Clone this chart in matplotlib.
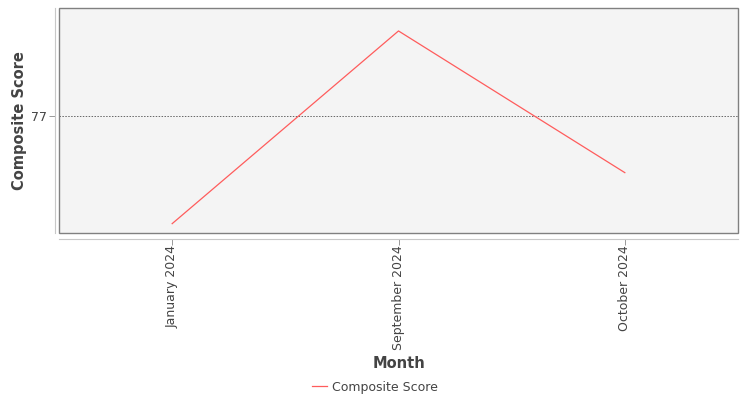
import matplotlib
matplotlib.use("Agg")
import matplotlib.pyplot as plt
from matplotlib.patches import Rectangle

months = ["January 2024", "September 2024", "October 2024"]
scores = [73.2, 80.0, 75.0]
y_ticks = [77]
series_name = "Composite Score"

plt.rcParams['font.family'] = ['DejaVu Sans']
fig = plt.figure(figsize=(7.5, 4.0), dpi=100)
W, H = 750, 400
ax = fig.add_axes([59 / W, 1 - 233 / H, (738 - 59) / W, (233 - 8) / H])
ax.set_facecolor("#f4f4f4")

for s in ["top", "right"]:
    ax.spines[s].set_visible(False)
ax.spines["left"].set_position(("outward", 3))
ax.spines["bottom"].set_position(("outward", 4))
ax.spines["left"].set_color("#c8c8c8")
ax.spines["bottom"].set_color("#c8c8c8")

x = list(range(len(months)))
ax.plot(x, scores, color="#ff5c5c", linewidth=0.9, label=series_name)
ax.set_xlim(-0.5, len(months) - 0.5)
ax.set_ylim(72.87, 80.81)

ax.set_xticks(x)
ax.set_xticklabels(months, rotation=90, fontsize=9, color="#444444")
ax.set_yticks(y_ticks)
ax.set_yticklabels([str(t) for t in y_ticks], fontsize=9, color="#444444")
for t in y_ticks:
    ax.axhline(t, color="#666666", linestyle=(0, (1.5, 1.5)), linewidth=0.7, zorder=1)

ax.tick_params(axis="x", colors="#999999", labelcolor="#444444", length=4, width=0.7, pad=1)
ax.tick_params(axis="y", colors="#999999", labelcolor="#444444", length=4, width=0.7, pad=2)

ax.add_patch(Rectangle((0, 0), 1, 1, transform=ax.transAxes, fill=False,
                       edgecolor="#808080", linewidth=1.0, zorder=5, clip_on=False))

ax.set_xlabel("Month", fontsize=10.5, fontweight="bold", color="#444444")
ax.set_ylabel("Composite Score", fontsize=10.5, fontweight="semibold", color="#444444")
ax.xaxis.set_label_coords(0.5, -(363 - 233) / 225, transform=ax.transAxes)
ax.yaxis.set_label_coords(-(59 - 20) / 679, 0.5, transform=ax.transAxes)
ax.xaxis.label.set_verticalalignment("center")
ax.yaxis.label.set_verticalalignment("center")

fig.legend(loc="center", bbox_to_anchor=(0.5, 1 - 387 / H), frameon=False,
           fontsize=9, labelcolor="#444444", handlelength=1.2, handletextpad=0.4)

fig.savefig("out.png", dpi=100)
